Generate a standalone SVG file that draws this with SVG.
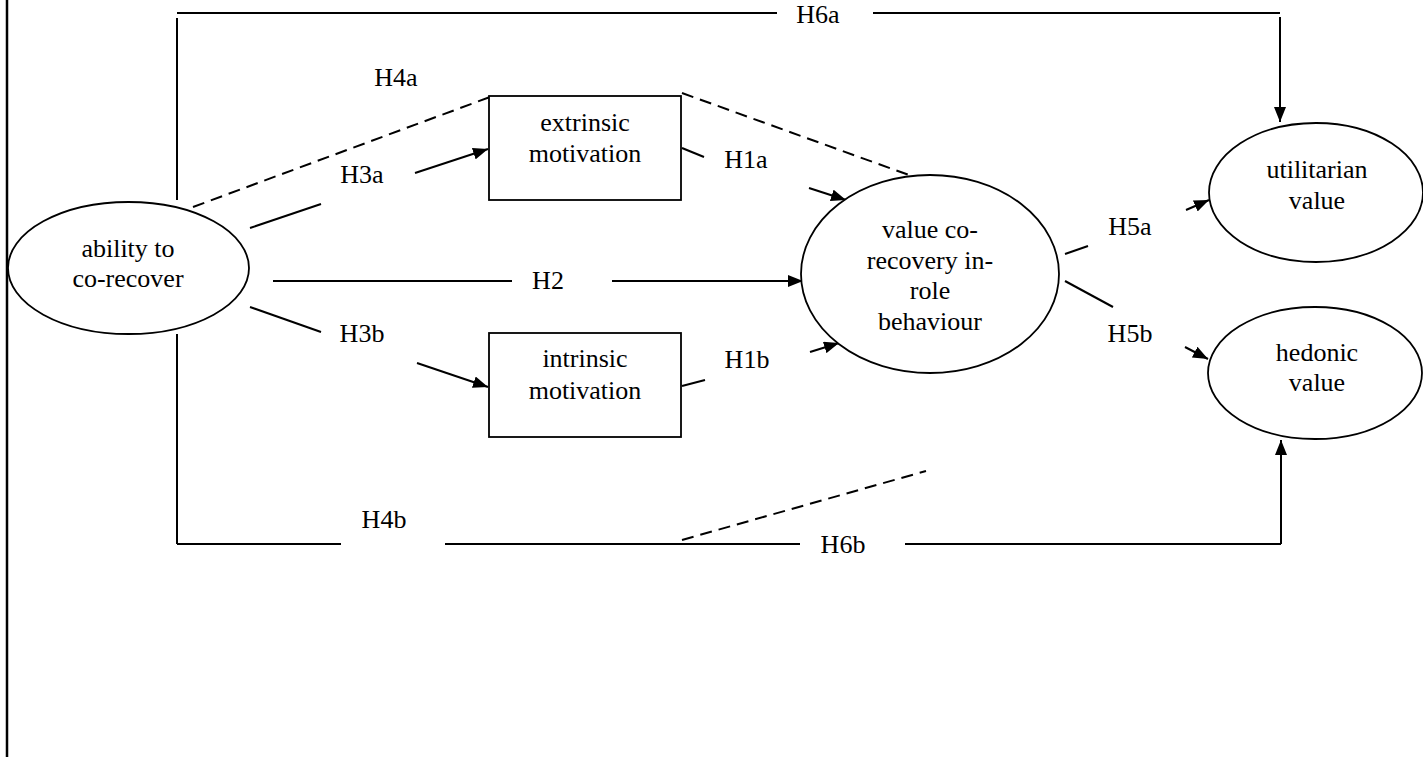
<svg xmlns="http://www.w3.org/2000/svg" width="1423" height="757" viewBox="0 0 1423 757">
<style>
text{font-size:26px;fill:#000;text-anchor:middle}
.ln{stroke:#000;stroke-width:2;fill:none}
.ar{stroke:#000;stroke-width:2;fill:none;marker-end:url(#ah)}
.ds{stroke:#000;stroke-width:2;fill:none;stroke-dasharray:12 7}
.nd{stroke:#000;stroke-width:1.8;fill:#fff}
</style>
<defs>
<marker id="ah" markerUnits="userSpaceOnUse" markerWidth="16" markerHeight="12" refX="15" refY="6" orient="auto">
<path d="M0,0 L15,6 L0,12 z" fill="#000"/>
</marker>
</defs>
<rect width="1423" height="757" fill="#fff"/>
<line x1="7" y1="0" x2="7" y2="757" stroke="#000" stroke-width="2.5"/>
<g font-family="'Liberation Serif', 'Times New Roman', 'DejaVu Serif', serif">
<g id="connectors">
<!-- H6a -->
<polyline class="ln" points="177,200 177,18"/>
<line class="ln" x1="177" y1="13" x2="777" y2="13"/>
<line class="ln" x1="873" y1="13" x2="1280" y2="13"/>
<line class="ar" x1="1280" y1="17" x2="1280" y2="122"/>
<text x="818" y="23">H6a</text>
<!-- H4a -->
<line class="ds" x1="193" y1="207" x2="490" y2="97"/>
<line class="ds" x1="682" y1="93" x2="920" y2="179"/>
<text x="396" y="86">H4a</text>
<!-- H3a -->
<line class="ln" x1="250" y1="228" x2="321" y2="204"/>
<line class="ar" x1="415" y1="173" x2="488" y2="149"/>
<text x="362" y="183">H3a</text>
<!-- H1a -->
<line class="ln" x1="682" y1="148" x2="704" y2="157"/>
<line class="ar" x1="809" y1="188" x2="846" y2="200"/>
<text x="746" y="168">H1a</text>
<!-- H2 -->
<line class="ln" x1="273" y1="281" x2="512" y2="281"/>
<line class="ar" x1="612" y1="281" x2="803" y2="281"/>
<text x="548" y="289">H2</text>
<!-- H3b -->
<line class="ln" x1="250" y1="307" x2="321" y2="332"/>
<line class="ar" x1="417" y1="363" x2="488" y2="387"/>
<text x="362" y="342">H3b</text>
<!-- H1b -->
<line class="ln" x1="682" y1="386" x2="705" y2="380"/>
<line class="ar" x1="810" y1="352" x2="839" y2="343"/>
<text x="747" y="368">H1b</text>
<!-- H5a -->
<line class="ln" x1="1065" y1="254" x2="1088" y2="246"/>
<line class="ar" x1="1186" y1="210" x2="1209" y2="200"/>
<text x="1130" y="235">H5a</text>
<!-- H5b -->
<line class="ln" x1="1065" y1="281" x2="1113" y2="307"/>
<line class="ar" x1="1185" y1="347" x2="1208" y2="359"/>
<text x="1130" y="342">H5b</text>
<!-- H4b / H6b -->
<line class="ln" x1="177" y1="334" x2="177" y2="544"/>
<line class="ln" x1="177" y1="544" x2="341" y2="544"/>
<line class="ln" x1="445" y1="544" x2="800" y2="544"/>
<line class="ln" x1="905" y1="544" x2="1281" y2="544"/>
<line class="ar" x1="1281" y1="544" x2="1281" y2="440"/>
<line class="ds" x1="682" y1="540" x2="926" y2="471"/>
<text x="384" y="528">H4b</text>
<text x="843" y="553">H6b</text>
</g>
<g id="ability">
<ellipse class="nd" cx="128.5" cy="268" rx="120.5" ry="66"/>
<text x="128" y="257">ability to</text>
<text x="128" y="287">co-recover</text>
</g>
<g id="extrinsic">
<rect class="nd" x="489" y="96" width="192" height="104"/>
<text x="585" y="131">extrinsic</text>
<text x="585" y="162">motivation</text>
</g>
<g id="intrinsic">
<rect class="nd" x="489" y="333" width="192" height="104"/>
<text x="585" y="367">intrinsic</text>
<text x="585" y="399">motivation</text>
</g>
<g id="valuecorecovery">
<ellipse class="nd" cx="930" cy="274" rx="129" ry="99"/>
<text x="930" y="238">value co-</text>
<text x="930" y="269">recovery in-</text>
<text x="930" y="299">role</text>
<text x="930" y="330">behaviour</text>
</g>
<g id="utilitarian">
<ellipse class="nd" cx="1316" cy="192.5" rx="107" ry="69.5"/>
<text x="1317" y="178">utilitarian</text>
<text x="1317" y="209">value</text>
</g>
<g id="hedonic">
<ellipse class="nd" cx="1315" cy="373" rx="107" ry="66"/>
<text x="1317" y="361">hedonic</text>
<text x="1317" y="391">value</text>
</g>
</g>
</svg>
